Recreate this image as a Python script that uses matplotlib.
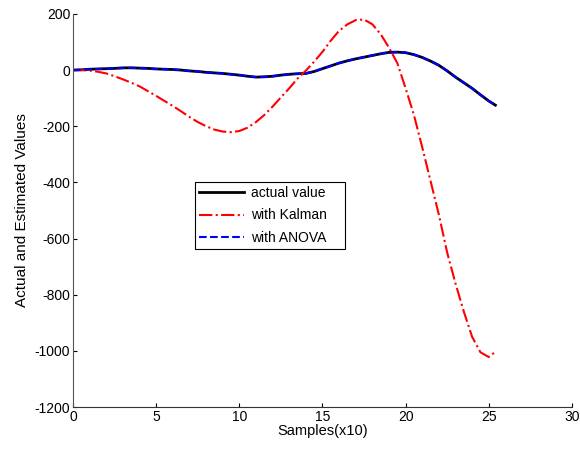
import numpy as np
import matplotlib
matplotlib.use('Agg')
from matplotlib import pyplot as plt

# values
x_act = [0, 0.5, 1, 1.5, 2, 2.5, 3, 3.5, 4, 4.5, 5, 5.5, 6, 6.5, 7, 7.5, 8, 8.5, 9, 9.5,
         10, 10.5, 11, 11.5, 12, 12.5, 13, 13.5, 14, 14.5, 15, 15.5, 16, 16.5, 17, 17.5,
         18, 18.5, 19, 19.5, 20, 20.5, 21, 21.5, 22, 22.5, 23, 23.5, 24, 24.5, 25, 25.4]
actual = [0, 1, 3, 4, 5, 6, 8, 8, 7, 6, 4, 3, 2, 0, -3, -5, -8, -10, -12, -15,
          -18, -22, -25, -24, -22, -18, -15, -13, -12, -5, 5, 15, 25, 33, 40, 46,
          52, 58, 63, 64, 62, 55, 45, 32, 17, -3, -25, -45, -65, -88, -110, -125]
anova = [0, 1, 3, 4, 5, 6, 7, 8, 7, 6, 4, 3, 2, 0, -3, -5, -8, -10, -12, -15,
         -18, -22, -25, -24, -22, -18, -15, -13, -12, -5, 5, 15, 25, 33, 40, 46,
         52, 58, 63, 64, 62, 55, 45, 32, 17, -3, -25, -45, -65, -88, -110, -125]

x_kal = [0, 0.5, 1, 1.5, 2, 2.5, 3, 3.5, 4, 4.5, 5, 5.5, 6, 6.5, 7, 7.5, 8, 8.5, 9, 9.5,
         10, 10.5, 11, 11.5, 12, 12.5, 13, 13.5, 14, 14.5, 15, 15.5, 16, 16.5, 17, 17.5,
         18, 18.5, 19, 19.5, 20, 20.5, 21, 21.5, 22, 22.5, 23, 23.5, 24, 24.5, 25, 25.4]
kalman = [0, 0, -2, -6, -12, -22, -33, -45, -58, -75, -92, -110, -128, -147, -167, -185,
          -200, -212, -219, -221, -217, -205, -185, -160, -130, -97, -65, -30, -2, 30,
          65, 105, 140, 163, 178, 180, 163, 128, 80, 25, -65, -160, -275, -395, -515,
          -650, -760, -860, -950, -1005, -1022, -1003]

plt.rcParams['font.family'] = ['Liberation Sans', 'DejaVu Sans']
plt.rcParams['axes.unicode_minus'] = False

fig = plt.figure(figsize=[5.8, 4.49], dpi=100)
ax = fig.add_axes([0.126, 0.0935, 0.86, 0.8755])

ax.plot(x_act, actual, color='k', lw=2, label='actual value')
ax.plot(x_kal, kalman, color='r', lw=1.5, linestyle='-.', label='with Kalman')
ax.plot(x_act, anova, color='b', lw=1.5, linestyle='--', label='with ANOVA')

ax.set_xlim(0, 30)
ax.set_ylim(-1200, 200)
ax.set_xticks(np.arange(0, 31, 5))
ax.set_yticks(np.arange(-1200, 201, 200))
ax.spines['top'].set_visible(False)
ax.spines['right'].set_visible(False)
ax.spines['left'].set_color('#555555')
ax.spines['bottom'].set_color('#333333')
ax.tick_params(direction='in', length=3, labelsize=10, pad=2)
ax.set_xlabel('Samples(x10)', fontsize=10.5, labelpad=0)
ax.set_ylabel('Actual and Estimated Values', fontsize=11, labelpad=4)

leg = ax.legend(loc='upper left', bbox_to_anchor=(0.245, 0.5725, 0.3, 0.0), mode='expand',
                fancybox=False, edgecolor='k', framealpha=1, fontsize=10,
                borderaxespad=0, borderpad=0.3, handlelength=3.2, handletextpad=0.5,
                labelspacing=0.6)
leg.get_frame().set_linewidth(0.8)

plt.savefig('out.png', dpi=100)
